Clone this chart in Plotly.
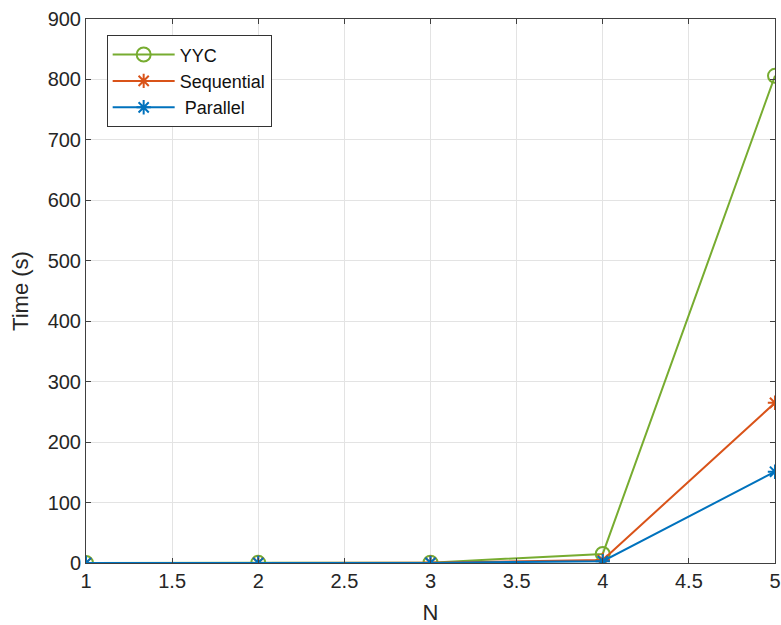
import plotly.graph_objects as go

N = [1, 2, 3, 4, 5]
yyc = [0.2, 0.3, 0.6, 15, 806]
sequential = [0.1, 0.2, 0.3, 5, 265]
parallel = [0.1, 0.1, 0.2, 3, 151]

x_ticks = [1, 1.5, 2, 2.5, 3, 3.5, 4, 4.5, 5]
x_tick_text = ["1", "1.5", "2", "2.5", "3", "3.5", "4", "4.5", "5"]
y_ticks = [0, 100, 200, 300, 400, 500, 600, 700, 800, 900]

fig = go.Figure()
fig.add_trace(go.Scatter(x=N, y=yyc, name="YYC", mode="lines+markers",
                         line=dict(color="#77AC30", width=2),
                         marker=dict(symbol="circle-open", size=14, line=dict(width=2, color="#77AC30"))))
fig.add_trace(go.Scatter(x=N, y=sequential, name="Sequential", mode="lines+markers",
                         line=dict(color="#D95319", width=2),
                         marker=dict(symbol="asterisk-open", size=12, line=dict(width=2, color="#D95319"))))
fig.add_trace(go.Scatter(x=N, y=parallel, name=" Parallel", mode="lines+markers",
                         line=dict(color="#0072BD", width=2),
                         marker=dict(symbol="asterisk-open", size=12, line=dict(width=2, color="#0072BD"))))

axis_common = dict(showline=True, linecolor="#404040", linewidth=1, mirror="ticks",
                   ticks="inside", ticklen=5, tickcolor="#404040",
                   showgrid=True, gridcolor="#e3e3e3", gridwidth=1, zeroline=False,
                   automargin=False,
                   tickfont=dict(family="Liberation Sans, Arial", size=20, color="#262626"))

fig.update_layout(
    width=781, height=625,
    margin=dict(l=86, r=6, t=19, b=62),
    paper_bgcolor="white", plot_bgcolor="white",
    font=dict(family="Liberation Sans, Arial", color="#262626"),
    xaxis=dict(range=[1, 5], tickvals=x_ticks, ticktext=x_tick_text,
               title=dict(text="N", font=dict(size=22), standoff=16), **axis_common),
    yaxis=dict(range=[0, 900], tickvals=y_ticks,
               title=dict(text="Time (s)", font=dict(size=22), standoff=12), **axis_common),
    legend=dict(x=0.03, y=0.97, xanchor="left", yanchor="top",
                bgcolor="white", bordercolor="#333333", borderwidth=1,
                font=dict(size=18, color="#111111"), itemwidth=62, tracegroupgap=0),
    showlegend=True,
)

fig.write_html("out.html")
